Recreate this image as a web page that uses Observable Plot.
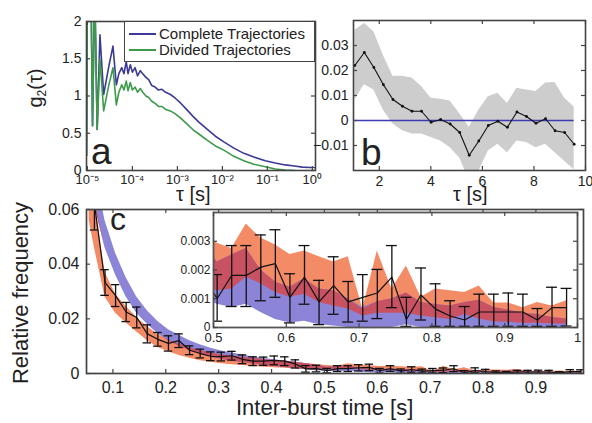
<!DOCTYPE html>
<html><head><meta charset="utf-8">
<script src="https://cdn.jsdelivr.net/npm/d3@7"></script>
<script src="https://cdn.jsdelivr.net/npm/@observablehq/plot@0.6"></script>
<style>
body{margin:0;background:#fff;}
#fig{position:relative;width:592px;height:423px;overflow:hidden;background:#fff;font-family:"Liberation Sans",Arial,sans-serif;color:#222;}
.lbl{position:absolute;white-space:nowrap;line-height:1;color:#222;}
.rot{transform:translate(-50%,-50%) rotate(-90deg);}
</style></head><body><div id="fig"></div>
<script>
// ---------- Panel a: g2(tau) ----------
const tauA = [9.6e-6, 1.0e-5, 1.2e-5, 1.3e-5, 1.45e-5, 1.65e-5, 1.9e-5, 2.3e-5, 3.0e-5, 3.7e-5, 4.4e-5, 5.0e-5, 5.8e-5, 6.5e-5, 7.3e-5, 8.0e-5, 9.0e-5, 1.0e-4, 1.15e-4, 1.3e-4, 1.5e-4, 1.7e-4, 2.0e-4, 2.3e-4, 2.7e-4, 3.2e-4, 3.8e-4, 4.5e-4, 5.5e-4, 7e-4, 9e-4, 1.2e-3, 1.6e-3, 2.2e-3, 3e-3, 4.5e-3, 7e-3, 1.1e-2, 1.8e-2, 3e-2, 5e-2, 9e-2, 0.15, 0.25, 0.4, 0.6, 0.9, 1.1];
const g2Complete = [0.2, 2.5, 2.5, 0.6, 2.5, 0.55, 1.82, 1.02, 1.4, 1.67, 1.15, 1.3, 1.38, 1.3, 1.46, 1.3, 1.42, 1.32, 1.38, 1.27, 1.34, 1.3, 1.25, 1.22, 1.14, 1.12, 1.08, 1.09, 1.05, 1.02, 0.97, 0.9, 0.82, 0.73, 0.65, 0.56, 0.46, 0.38, 0.3, 0.23, 0.18, 0.13, 0.1, 0.075, 0.06, 0.045, 0.04, 0.04];
const g2Divided = [0.2, 2.5, 2.5, 0.6, 2.5, 0.55, 1.5, 0.8, 1.15, 1.38, 0.88, 1.05, 1.15, 1.08, 1.2, 1.07, 1.18, 1.08, 1.12, 1.05, 1.1, 1.05, 1.0, 0.98, 0.93, 0.9, 0.86, 0.86, 0.82, 0.8, 0.76, 0.7, 0.63, 0.55, 0.49, 0.41, 0.33, 0.27, 0.19, 0.13, 0.085, 0.05, 0.02, 0.005, 0.0, null, null, null];
const aXTicks = [1e-5, 1e-4, 1e-3, 1e-2, 1e-1, 1];
const aYTicks = [0, 0.5, 1, 1.5, 2];
const aSeries = ["Complete Trajectories", "Divided Trajectories"];

// ---------- Panel b ----------
const bX = [1.05, 1.42, 1.79, 2.16, 2.53, 2.90, 3.27, 3.64, 4.01, 4.38, 4.75, 5.12, 5.49, 5.86, 6.23, 6.60, 6.97, 7.34, 7.71, 8.08, 8.45, 8.82, 9.19, 9.56];
const bMean = [0.022, 0.0272, 0.0212, 0.0143, 0.0084, 0.0057, 0.0037, 0.0037, -0.0007, 0.0004, -0.0014, -0.0048, -0.0139, -0.0082, -0.002, -0.0003, -0.0027, 0.0034, 0.0016, -0.0011, 0.0007, -0.0041, -0.0048, -0.0095];
const bUpper = [0.036, 0.0388, 0.0355, 0.026, 0.0177, 0.0177, 0.017, 0.0136, 0.0089, 0.0085, 0.0078, 0.0027, -0.0027, 0.0041, 0.0095, 0.0109, 0.0068, 0.0129, 0.0122, 0.0116, 0.015, 0.0152, 0.0089, 0.0054];
const bLower = [0.0082, 0.0143, 0.0122, 0.0041, -0.0014, -0.0041, -0.0054, -0.0054, -0.0068, -0.0082, -0.0109, -0.015, -0.024, -0.0204, -0.0122, -0.0095, -0.0129, -0.0082, -0.0088, -0.0109, -0.0095, -0.0129, -0.0163, -0.0197];
const bXTicks = [2, 4, 6, 8, 10];
const bYTicks = [-0.01, 0, 0.01, 0.02, 0.03];

// ---------- Panel c ----------
const cX = [0.065, 0.085, 0.105, 0.125, 0.145, 0.165, 0.185, 0.205, 0.225, 0.245, 0.265, 0.285, 0.305, 0.325, 0.345, 0.365, 0.385, 0.405, 0.425, 0.445, 0.465, 0.485, 0.505, 0.525, 0.545, 0.565, 0.585, 0.605, 0.625, 0.645, 0.665, 0.685, 0.705, 0.725, 0.745, 0.765, 0.785, 0.805, 0.825, 0.845, 0.865, 0.885, 0.905, 0.925, 0.945, 0.965, 0.985];
const cMean = [0.062, 0.0333, 0.0285, 0.0225, 0.0205, 0.0145, 0.0125, 0.011, 0.012, 0.0085, 0.0073, 0.0063, 0.0062, 0.0065, 0.0052, 0.0045, 0.0045, 0.0048, 0.0045, 0.0035, 0.0017, 0.0018,
  0.00101, 0.00181, 0.00181, 0.0021, 0.00222, 0.00105, 0.00175, 0.00089, 0.00146, 0.00089, 0.00105, 0.0012, 0.00175, 0.00028, 0.00113, 0.00064, 0.0004, 0.00026, 0.00054, 0.00054, 0.00054, 0.00054, 0.00026, 0.00069, 0.00069];
const cHi = [0.0715, 0.038, 0.0325, 0.026, 0.0243, 0.0178, 0.015, 0.0138, 0.0145, 0.0101, 0.0089, 0.0079, 0.0078, 0.0081, 0.0068, 0.0061, 0.006, 0.0064, 0.0061, 0.005, 0.0029, 0.003,
  0.00184, 0.00285, 0.00285, 0.00322, 0.0034, 0.00187, 0.00285, 0.00164, 0.00246, 0.0016, 0.00184, 0.00202, 0.00285, 0.00105, 0.00207, 0.00152, 0.00093, 0.00073, 0.00116, 0.00116, 0.0012, 0.00116, 0.00066, 0.0014, 0.00136];
const cLo = [0.0525, 0.0286, 0.0245, 0.019, 0.0167, 0.0112, 0.01, 0.0082, 0.0095, 0.0069, 0.0057, 0.0047, 0.0046, 0.0049, 0.0036, 0.0029, 0.003, 0.0032, 0.0029, 0.002, 0.0005, 0.0006,
  0.00022, 0.00073, 0.00073, 0.00093, 0.00105, 0.00016, 0.00081, 0.0001, 0.00046, 0.00019, 0.00022, 0.00031, 0.00069, 0.00004, 0.00026, 0.00004, 0.00004, 0.00004, 0.00004, 0.00004, 0.00004, 0.00004, 0.00004, 0.00004, 0.00005];
const bandX = [0.055, 0.065, 0.085, 0.105, 0.125, 0.145, 0.165, 0.185, 0.205, 0.225, 0.245, 0.265, 0.285, 0.305, 0.325, 0.345, 0.365, 0.385, 0.405, 0.425, 0.445, 0.465, 0.485, 0.505, 0.525, 0.545, 0.565, 0.585, 0.605, 0.625, 0.645, 0.665, 0.685, 0.705, 0.725, 0.745, 0.765, 0.785, 0.805, 0.825, 0.845, 0.865, 0.885, 0.905, 0.925, 0.945, 0.965, 0.985];
const orangeHi = [0.075, 0.064, 0.037, 0.029, 0.0245, 0.0205, 0.0172, 0.0143, 0.0123, 0.0108, 0.0094, 0.0084, 0.0075, 0.0069, 0.0064, 0.0059, 0.0055, 0.0051, 0.0048, 0.0045, 0.0041, 0.0037, 0.0033,
  0.00293, 0.00275, 0.0036, 0.00311, 0.00287, 0.00254, 0.00266, 0.00246, 0.00228, 0.00246, 0.00064, 0.00266, 0.00134, 0.00214, 0.00105, 0.00134, 0.00128, 0.00122, 0.00144, 0.00085, 0.00085, 0.00069, 0.00087, 0.00075, 0.00093];
const orangeLo = [0.056, 0.046, 0.028, 0.022, 0.0185, 0.0152, 0.012, 0.0095, 0.008, 0.0066, 0.0056, 0.0047, 0.0041, 0.0036, 0.0032, 0.0029, 0.0026, 0.0023, 0.0021, 0.0019, 0.0017, 0.0015, 0.0014,
  0.00128, 0.00134, 0.00175, 0.00152, 0.00122, 0.00105, 0.00116, 0.00087, 0.00075, 0.00064, 0.0004, 0.0005, 0.0005, 0.0005, 0.0004, 0.00034, 0.00028, 0.00045, 0.0003, 0.0002, 0.00018, 0.00015, 0.00015, 0.00012, 0.00012];
const blueHi = [0.09, 0.075, 0.056, 0.044, 0.035, 0.028, 0.023, 0.019, 0.016, 0.014, 0.012, 0.0105, 0.0092, 0.0082, 0.0075, 0.0068, 0.006, 0.0055, 0.005, 0.0046, 0.0042, 0.0036, 0.003,
  0.00228, 0.00252, 0.00275, 0.002, 0.00158, 0.0014, 0.0017, 0.00134, 0.00128, 0.00099, 0.0007, 0.0009, 0.001, 0.0012, 0.00087, 0.0008, 0.00075, 0.00087, 0.00095, 0.0007, 0.0006, 0.0005, 0.00045, 0.00035, 0.0003];
const blueLo = [0.075, 0.062, 0.046, 0.036, 0.028, 0.022, 0.018, 0.0145, 0.012, 0.01, 0.0085, 0.0072, 0.006, 0.0052, 0.0045, 0.004, 0.0035, 0.003, 0.0026, 0.0022, 0.0018, 0.0014, 0.001,
  0.00081, 0.0007, 0.00081, 0.00052, 0.00028, 0.00016, 0.00022, 0.0001, 0.00005, 0, 0, 0, 0, 0.0001, 0, 0, 0, 0, 0, 0, 0, 0, 0, 0, 0];
const cXTicks = [0.1, 0.2, 0.3, 0.4, 0.5, 0.6, 0.7, 0.8, 0.9];
const cYTicks = [0, 0.02, 0.04, 0.06];
const insetXTicks = [0.5, 0.6, 0.7, 0.8, 0.9, 1];
const insetYTicks = [0, 0.001, 0.002, 0.003];

// ---------- colours ----------
const C_BLUE_LINE = "#3b3a96", C_GREEN = "#3c9a4a", C_GREY = "#cdcdcd", C_ZERO = "#3d3db4";
const C_ORANGE = "#f38b66", C_PURPLE = "#8c84d6", C_OVER = "#c85262", C_FRAME = "#444";

const FONT = '"Liberation Sans", Arial, sans-serif';
const fig = document.getElementById("fig");

function place(el, left, top) {
  el.style.position = "absolute";
  el.style.left = left + "px";
  el.style.top = top + "px";
  fig.appendChild(el);
}
function styleFor(fs) {
  return {background: "none", overflow: "visible", fontFamily: FONT, fontSize: fs + "px", color: "#222"};
}
// tick labels outside, tick marks inside on all four sides (W,H = frame size)
function axes(xt, yt, W, H, o) {
  const L = 4;
  return [
    Plot.axisX(xt, {anchor: "bottom", tickSize: 0, tickPadding: o.xpad, tickFormat: o.xfmt, label: null, fontSize: o.xfs}),
    Plot.axisY(yt, {anchor: "left", tickSize: 0, tickPadding: o.ypad, tickFormat: o.yfmt, label: null, fontSize: o.yfs}),
    Plot.tickX(xt, {x: d => d, insetTop: H - L, stroke: C_FRAME, strokeWidth: 1.2}),
    Plot.tickX(xt, {x: d => d, insetBottom: H - L, stroke: C_FRAME, strokeWidth: 1.2}),
    Plot.tickY(yt, {y: d => d, insetRight: W - L, stroke: C_FRAME, strokeWidth: 1.2}),
    Plot.tickY(yt, {y: d => d, insetLeft: W - L, stroke: C_FRAME, strokeWidth: 1.2})
  ];
}
const sup = {"-": "\u207B", "0": "\u2070", "1": "\u00B9", "2": "\u00B2", "3": "\u00B3", "4": "\u2074", "5": "\u2075"};
const fmtPow = d => "10" + String(Math.round(Math.log10(d))).split("").map(c => sup[c]).join("");
const fmtNum = d => d3.format("~g")(d);

// ---------- Panel a ----------
const idxA = d3.range(tauA.length);
const pa = Plot.plot({
  width: 330, height: 205, marginLeft: 86, marginRight: 15, marginTop: 21, marginBottom: 35,
  style: styleFor(14),
  x: {type: "log", domain: [Math.pow(10, -5.02), Math.pow(10, 0.07)]},
  y: {domain: [0, 2]},
  marks: [
    Plot.line(idxA, {x: i => tauA[i], y: i => g2Complete[i], stroke: C_BLUE_LINE, strokeWidth: 1.6, clip: true}),
    Plot.line(idxA, {x: i => tauA[i], y: i => g2Divided[i], stroke: C_GREEN, strokeWidth: 1.6, clip: true}),
    Plot.frame({stroke: C_FRAME, strokeWidth: 1.6}),
    ...axes(aXTicks, aYTicks, 229, 149, {xpad: 4, ypad: 5, xfmt: fmtPow, yfmt: fmtNum, xfs: 13, yfs: 14})
  ]
});
place(pa, 0, 0);

// ---------- Panel b ----------
const idxB = d3.range(bX.length);
const pb = Plot.plot({
  width: 292, height: 205, marginLeft: 53, marginRight: 7, marginTop: 20, marginBottom: 35,
  style: styleFor(14),
  x: {domain: [1, 10]},
  y: {domain: [-0.02, 0.04]},
  marks: [
    Plot.area(idxB, {x1: i => bX[i], y1: i => bLower[i], y2: i => bUpper[i], fill: C_GREY, clip: true}),
    Plot.ruleY([0], {x1: d3.min(bX), x2: d3.max(bX), stroke: C_ZERO, strokeWidth: 1.7}),
    Plot.line(idxB, {x: i => bX[i], y: i => bMean[i], stroke: "#111", strokeWidth: 1.1}),
    Plot.dot(idxB, {x: i => bX[i], y: i => bMean[i], r: 1.4, fill: "#111"}),
    Plot.frame({stroke: C_FRAME, strokeWidth: 1.6}),
    ...axes(bXTicks, bYTicks, 232, 150, {xpad: 6, ypad: 5, xfmt: fmtNum, yfmt: fmtNum, xfs: 14, yfs: 14})
  ]
});
place(pb, 300, 0);

// ---------- Panel c (main + inset) ----------
const idxC = d3.range(cX.length);
const idxBand = d3.range(bandX.length);
const overLo = idxBand.map(i => Math.max(orangeLo[i], blueLo[i]));
const overHi = idxBand.map(i => Math.max(overLo[i], Math.min(orangeHi[i], blueHi[i])));
function cMarks(capHalf, sw) {
  return [
    Plot.area(idxBand, {x1: i => bandX[i], y1: i => orangeLo[i], y2: i => orangeHi[i], fill: C_ORANGE, clip: true}),
    Plot.area(idxBand, {x1: i => bandX[i], y1: i => blueLo[i], y2: i => blueHi[i], fill: C_PURPLE, clip: true}),
    Plot.area(idxBand, {x1: i => bandX[i], y1: i => overLo[i], y2: i => overHi[i], fill: C_OVER, clip: true}),
    Plot.ruleX(idxC, {x: i => cX[i], y1: i => cLo[i], y2: i => cHi[i], stroke: "#111", strokeWidth: sw, clip: true}),
    Plot.ruleY(idxC, {y: i => cHi[i], x1: i => cX[i] - capHalf, x2: i => cX[i] + capHalf, stroke: "#111", strokeWidth: sw, clip: true}),
    Plot.ruleY(idxC, {y: i => cLo[i], x1: i => cX[i] - capHalf, x2: i => cX[i] + capHalf, stroke: "#111", strokeWidth: sw, clip: true}),
    Plot.line(idxC, {x: i => cX[i], y: i => cMean[i], stroke: "#111", strokeWidth: 1.2, clip: true})
  ];
}
const pc = Plot.plot({
  width: 592, height: 223, marginLeft: 86, marginRight: 9, marginTop: 9, marginBottom: 50,
  style: styleFor(16),
  x: {domain: [0.05, 0.99]},
  y: {domain: [0, 0.06]},
  marks: [
    ...cMarks(0.008, 1.3),
    Plot.frame({stroke: C_FRAME, strokeWidth: 1.7}),
    ...axes(cXTicks, cYTicks, 497, 164, {xpad: 8, ypad: 7, xfmt: fmtNum, yfmt: fmtNum, xfs: 16, yfs: 16})
  ]
});
place(pc, 0, 200);

const pi = Plot.plot({
  width: 410, height: 140, marginLeft: 33, marginRight: 13, marginTop: 7, marginBottom: 18,
  style: styleFor(12),
  x: {domain: [0.5, 1]},
  y: {domain: [0, 0.004]},
  marks: [
    Plot.frame({fill: "white"}),
    ...cMarks(0.0075, 1.3),
    Plot.frame({stroke: "#555", strokeWidth: 1.8}),
    ...axes(insetXTicks, insetYTicks, 364, 115, {xpad: 5, ypad: 3, xfmt: fmtNum, yfmt: fmtNum, xfs: 13, yfs: 12})
  ]
});
place(pi, 180, 205);

// ---------- text labels ----------
function label(html, left, top, fs, cls) {
  const s = document.createElement("span");
  s.className = "lbl" + (cls ? " " + cls : "");
  s.style.left = left + "px";
  s.style.top = top + "px";
  s.style.fontSize = fs + "px";
  s.innerHTML = html;
  fig.appendChild(s);
  return s;
}
label("g<span style='font-size:0.6em;position:relative;top:0.3em'>2</span>(\u03C4)", 35, 88, 20, "rot");
label("\u03C4 [s]", 176, 184, 20);
label("\u03C4 [s]", 453, 184, 20);
label("a", 91, 133, 37);
label("b", 361, 134, 37);
label("c", 110, 203, 32);
label("Relative frequency", 21, 293, 22, "rot");
label("Inter-burst time [s]", 236, 397, 22);

// legend for panel a
const leg = document.createElement("div");
leg.style.cssText = "position:absolute;left:124px;top:21px;width:191px;height:41px;border:1.3px solid " + C_FRAME + ";background:#fff;box-sizing:border-box;";
[[aSeries[0], C_BLUE_LINE, 12], [aSeries[1], C_GREEN, 28]].forEach(([t, c, y]) => {
  const ln = document.createElement("div");
  ln.style.cssText = `position:absolute;left:4px;top:${y - 1}px;width:27px;height:0;border-top:2px solid ${c};`;
  leg.appendChild(ln);
  const tx = document.createElement("span");
  tx.className = "lbl";
  tx.style.cssText += `left:34px;top:${y - 8}px;font-size:15px;`;
  tx.textContent = t;
  leg.appendChild(tx);
});
fig.appendChild(leg);
</script></body></html>
